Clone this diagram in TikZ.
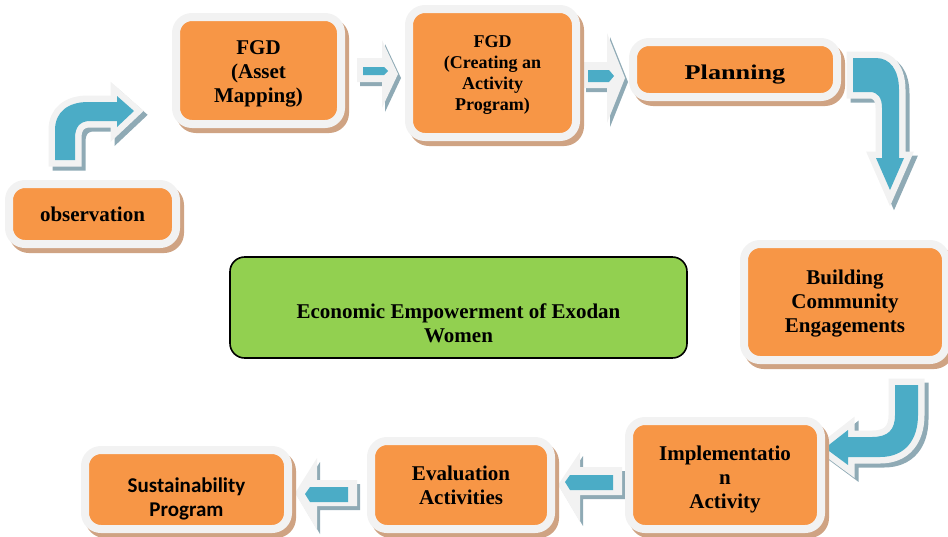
\documentclass[tikz,border=0pt]{standalone}
\usepackage{fontspec}
\setmainfont{Liberation Serif}
\newfontfamily\calfont{Carlito}
\newfontfamily\widefont[FakeStretch=1.25]{Liberation Serif}
\definecolor{boxorange}{HTML}{F79646}
\definecolor{framegray}{HTML}{F2F2F2}
\definecolor{shadowtan}{HTML}{CFA383}
\definecolor{goalgreen}{HTML}{92D050}
\definecolor{arrowblue}{HTML}{4BACC6}
\definecolor{arrshade}{HTML}{8FAAB5}
\newcommand\lowtext[2]{\raisebox{-#1}[\height][\depth]{\begin{tabular}{@{}c@{}}#2\end{tabular}}}
\begin{document}
\begin{tikzpicture}[x=0.75pt,y=-0.75pt,
  pbox/.style={draw=framegray, line width=6pt, fill=boxorange, rounded corners=12pt,
    inner sep=0pt, align=center, font={\bfseries\fontsize{15.75pt}{18pt}\selectfont},
    preaction={draw=shadowtan, fill=shadowtan, line width=6pt,
      transform canvas={shift={(3pt,-3.75pt)}}}},
  arrshadow/.style={fill=arrshade, draw=arrshade, line width=9.75pt, line join=miter, miter limit=10},
  arrframe/.style={fill=framegray, draw=framegray, line width=9.75pt, line join=miter, miter limit=10},
  arrfill/.style={fill=arrowblue},
  flatshadow/.style={fill=arrshade},
  flatframe/.style={fill=framegray}]
\useasboundingbox (0,0) rectangle (948,536);

% ---------- block arrows (drawn first) ----------
\def\arrA{(55,160) -- (55,130) .. controls (55,112) and (68,102) .. (88,102) -- (117,102) -- (117,96) -- (134,111) -- (117,127) -- (117,121) -- (90,121) .. controls (80,121) and (75,127) .. (75,138) -- (75,160) -- cycle}
\def\arrB{(853,58) -- (876,58) .. controls (890,58) and (899,70) .. (899,90) -- (899,158) -- (904,158) -- (890,190) -- (876,158) -- (882,158) -- (882,108) .. controls (882,98) and (878,92) .. (870,92) -- (853,92) -- cycle}
\def\arrC{(895,385) -- (918,385) -- (918,415) .. controls (918,440) and (905,457) .. (880,457) -- (848,457) -- (848,465) -- (825,448) -- (848,430) -- (848,437) -- (872,437) .. controls (888,437) and (895,430) .. (895,415) -- cycle}
\foreach \p in {\arrA,\arrB,\arrC}{
  \draw[arrshadow, shift={(4,4)}] \p;
  \draw[arrframe] \p;
  \fill[arrfill] \p;
}

% straight arrows
\def\sA{(357,58) -- (382,58) -- (382,40) -- (398,74) -- (382,108) -- (382,82) -- (357,82) -- cycle}
\def\sB{(583,62) -- (607,62) -- (607,33) -- (625,78) -- (607,123) -- (607,88) -- (583,88) -- cycle}
\def\sC{(622,467) -- (580,467) -- (580,452) -- (558,485) -- (580,522) -- (580,495) -- (622,495) -- cycle}
\def\sD{(357,480) -- (317,480) -- (317,458) -- (295,493) -- (317,530) -- (317,506) -- (357,506) -- cycle}
\foreach \p in {\sA,\sB,\sC,\sD}{
  \fill[flatshadow, shift={(3,4)}] \p;
  \fill[flatframe] \p;
}
\fill[arrfill] (363,67) -- (384,67) -- (388,71) -- (384,75) -- (363,75) -- cycle;
\fill[arrfill] (588,70) -- (609,70) -- (614,76) -- (609,82) -- (588,82) -- cycle;
\fill[arrfill] (613,475) -- (570,475) -- (565,482) -- (570,490) -- (613,490) -- cycle;
\fill[arrfill] (348,487) -- (310,487) -- (305,494) -- (310,502) -- (348,502) -- cycle;

% ---------- boxes ----------
\node[pbox, minimum width=125.25pt, minimum height=45pt] (obs) at (92.5,214) {observation};
\node[pbox, minimum width=123.75pt, minimum height=80.25pt] (fgda) at (258.5,70.5) {\lowtext{2.25pt}{FGD\\(Asset\\Mapping)}};
\node[pbox, minimum width=125.25pt, minimum height=96pt,
  font={\bfseries\fontsize{13.5pt}{15.75pt}\selectfont}] (fgdb) at (492.5,73) {\lowtext{1.5pt}{FGD\\(Creating an\\Activity\\Program)}};
\node[pbox, minimum width=153pt, minimum height=41.25pt,
  font={\widefont\bfseries\fontsize{15.75pt}{18pt}\selectfont}] (plan) at (735,69.5) {\lowtext{3.75pt}{Planning}};
\node[pbox, minimum width=151.5pt, minimum height=87pt] (build) at (845,302) {\lowtext{1.5pt}{Building\\Community\\Engagements}};
\node[pbox, minimum width=144pt, minimum height=81pt] (impl) at (725,475) {\lowtext{3.75pt}{Implementatio\\n\\Activity}};
\node[pbox, minimum width=135pt, minimum height=66pt] (eval) at (461,485) {Evaluation\\Activities};
\node[pbox, minimum width=152.25pt, minimum height=59.25pt,
  font={\calfont\bfseries\fontsize{15.75pt}{18pt}\selectfont}] (sust) at (186.5,489.5) {\lowtext{8pt}{Sustainability\\Program}};

% ---------- central goal ----------
\node[draw=black, line width=1.2pt, fill=goalgreen, rounded corners=11pt,
  minimum width=342.75pt, minimum height=75.75pt] (goal) at (458.5,307.5) {};
\node[align=center, font={\bfseries\fontsize{15.75pt}{18pt}\selectfont}] (goaltext) at (458.5,323) {Economic Empowerment of Exodan\\Women};
\end{tikzpicture}
\end{document}
